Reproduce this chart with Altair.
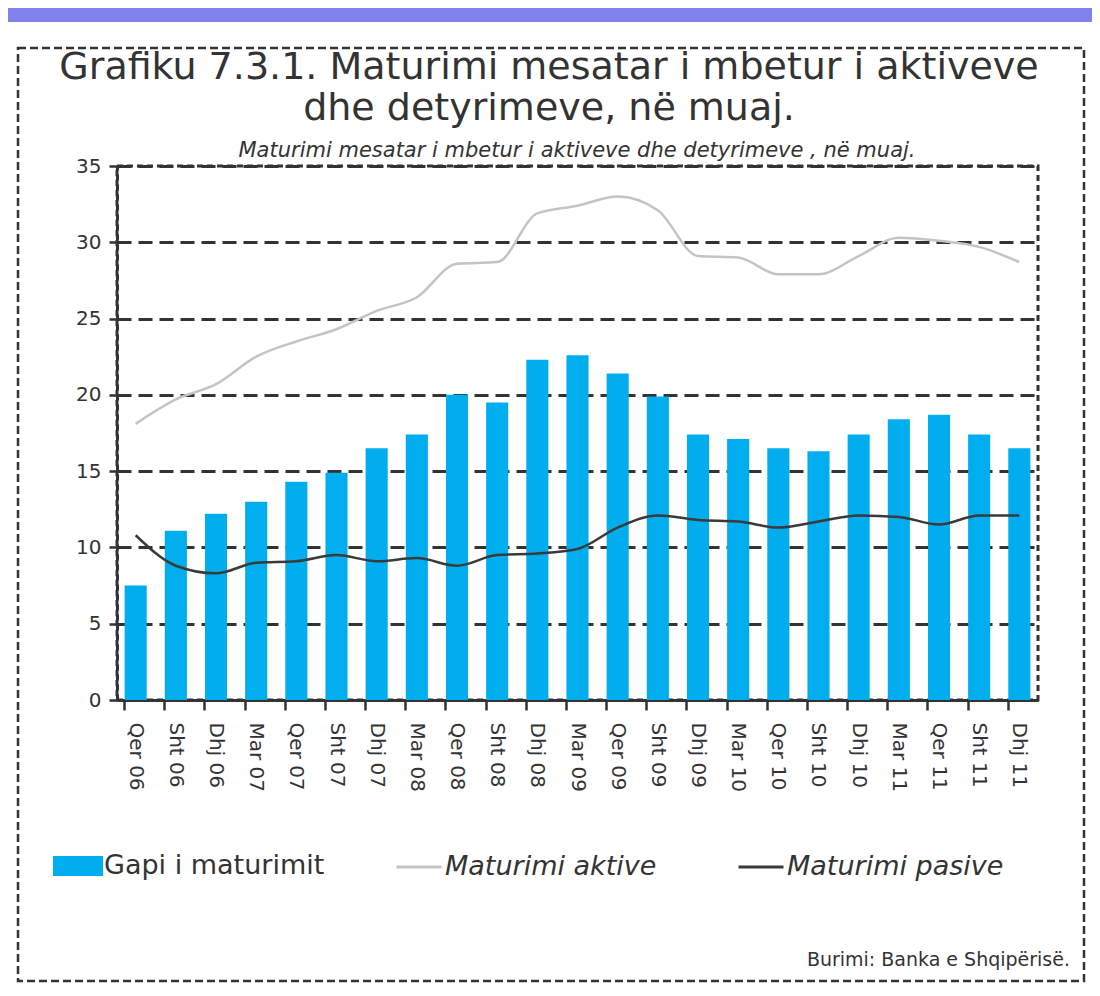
import altair as alt
import pandas as pd

categories = ["Qer 06", "Sht 06", "Dhj 06", "Mar 07", "Qer 07", "Sht 07", "Dhj 07", "Mar 08",
              "Qer 08", "Sht 08", "Dhj 08", "Mar 09", "Qer 09", "Sht 09", "Dhj 09", "Mar 10",
              "Qer 10", "Sht 10", "Dhj 10", "Mar 11", "Qer 11", "Sht 11", "Dhj 11"]
gap = [7.5, 11.1, 12.2, 13.0, 14.3, 14.9, 16.5, 17.4, 20.0, 19.5, 22.3, 22.6,
       21.4, 19.9, 17.4, 17.1, 16.5, 16.3, 17.4, 18.4, 18.7, 17.4, 16.5]
aktive = [18.1, 19.7, 20.7, 22.5, 23.5, 24.3, 25.5, 26.4, 28.6, 28.7, 31.9, 32.4,
          33.0, 32.1, 29.1, 29.0, 27.9, 27.9, 29.1, 30.3, 30.1, 29.7, 28.7]
pasive = [10.8, 8.8, 8.3, 9.0, 9.1, 9.5, 9.1, 9.3, 8.8, 9.5, 9.6, 9.9,
          11.3, 12.1, 11.8, 11.7, 11.3, 11.7, 12.1, 12.0, 11.5, 12.1, 12.1]
y_ticks = [0, 5, 10, 15, 20, 25, 30, 35]

title_text = "Grafiku 7.3.1. Maturimi mesatar i mbetur i aktiveve\ndhe detyrimeve, në muaj."
subtitle = "Maturimi mesatar i mbetur i aktiveve dhe detyrimeve , në muaj."
source = "Burimi: Banka e Shqipërisë."
bar_name = "Gapi i maturimit"
line_names = ["Maturimi aktive", "Maturimi pasive"]

FONT = "DejaVu Sans"
INK = "#333333"
W, H = 921, 534

df_bar = pd.DataFrame({"category": categories, "value": gap, "series": bar_name})
df_line = pd.concat([
    pd.DataFrame({"category": categories, "value": aktive, "series": line_names[0]}),
    pd.DataFrame({"category": categories, "value": pasive, "series": line_names[1]}),
])

x_enc = alt.X("category:N", sort=categories,
              scale=alt.Scale(paddingInner=0.45, paddingOuter=0.19),
              axis=alt.Axis(title=None, labelAngle=90, labelFontSize=20, labelPadding=12,
                            bandPosition=0, tickSize=10, tickWidth=2.5, tickColor=INK,
                            domainColor=INK, domainWidth=3, grid=False,
                            labelColor=INK, labelFont=FONT))
y_enc = alt.Y("value:Q", scale=alt.Scale(domain=[0, 35], nice=False, zero=True),
              axis=alt.Axis(title=None, values=y_ticks, grid=True, gridDash=[14, 7],
                            gridWidth=3, gridColor=INK, domainDash=[6, 4], domainWidth=3,
                            domainColor=INK, tickSize=8, tickWidth=2.5, tickColor=INK,
                            labelFontSize=20, labelPadding=8, labelColor=INK, labelFont=FONT))

bars = alt.Chart(df_bar).mark_bar().encode(
    x=x_enc, y=y_enc,
    fill=alt.Fill("series:N", scale=alt.Scale(domain=[bar_name], range=["#00aeef"]),
                  legend=alt.Legend(title=None, orient="none", legendX=-59, legendY=680,
                                    symbolType="M-1.25,-0.5H1.25V0.5H-1.25Z", symbolSize=1600,
                                    symbolStrokeWidth=0, labelFontSize=27, labelFont=FONT,
                                    labelColor=INK, labelOffset=6, labelLimit=600)),
)

lines = alt.Chart(df_line).mark_line(interpolate="monotone", strokeWidth=2.5).encode(
    x=alt.X("category:N", sort=categories),
    y=alt.Y("value:Q"),
    stroke=alt.Stroke("series:N",
                      scale=alt.Scale(domain=line_names, range=["#c4c4c4", "#3a3a3a"]),
                      legend=alt.Legend(title=None, orient="none", direction="horizontal",
                                        legendX=278, legendY=677, symbolType="stroke",
                                        symbolSize=2025, symbolStrokeWidth=3,
                                        labelFontSize=27, labelFont=FONT, labelColor=INK,
                                        labelFontStyle="italic", labelOffset=2,
                                        labelLimit=600, columnPadding=75)),
)


def text_layer(txt, xv, yv, size, align="center", style="normal", baseline="middle",
               line_height=None):
    kw = dict(align=align, baseline=baseline, fontSize=size, font=FONT, fontStyle=style,
              color=INK)
    if line_height is not None:
        kw.update(lineBreak="\n", lineHeight=line_height)
    return alt.Chart(pd.DataFrame({"t": [txt]})).mark_text(**kw).encode(
        x=alt.value(xv), y=alt.value(yv), text="t:N")


one = pd.DataFrame({"k": [0]})
top_strip = alt.Chart(one).mark_rect(color="#8282ee").encode(
    x=alt.value(-109), x2=alt.value(975), y=alt.value(-158), y2=alt.value(-144))
frame = alt.Chart(one).mark_rect(fillOpacity=0, stroke=INK, strokeDash=[8, 4],
                                 strokeWidth=2.5).encode(
    x=alt.value(-99), x2=alt.value(967), y=alt.value(-118), y2=alt.value(815))

chart = alt.layer(
    top_strip, frame, bars, lines,
    text_layer(title_text, 432, -117, 38, baseline="top", line_height=41),
    text_layer(subtitle, 460, -15, 21, style="italic"),
    text_layer(source, 953, 794, 19, align="right"),
).resolve_scale(fill="independent", stroke="independent").properties(
    width=W, height=H,
    autosize=alt.AutoSizeParams(type="none"),
    padding={"left": 109, "top": 158, "right": 54, "bottom": 284},
    background="white",
).configure_view(stroke=INK, strokeDash=[6, 4], strokeWidth=3)

chart.save("out.html", embed_options={"renderer": "svg", "actions": False})
